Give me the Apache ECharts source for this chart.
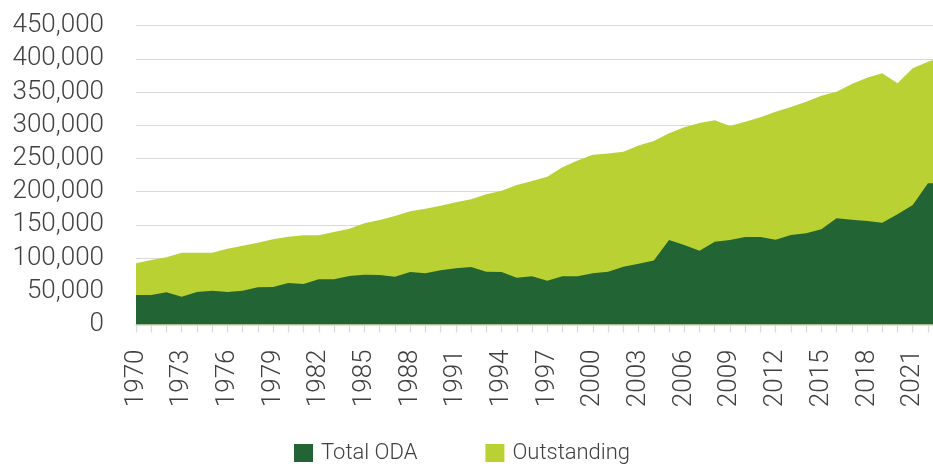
<!DOCTYPE html>
<html>
<head>
<meta charset="utf-8">
<script src="https://cdn.jsdelivr.net/npm/echarts@6/dist/echarts.min.js"></script>
<style>
html,body{margin:0;padding:0;background:#fff;}
#chart{width:933px;height:464px;}
</style>
</head>
<body>
<div id="chart"></div>
<script>
const years = ['1970','1971','1972','1973','1974','1975','1976','1977','1978','1979',
  '1980','1981','1982','1983','1984','1985','1986','1987','1988','1989',
  '1990','1991','1992','1993','1994','1995','1996','1997','1998','1999',
  '2000','2001','2002','2003','2004','2005','2006','2007','2008','2009',
  '2010','2011','2012','2013','2014','2015','2016','2017','2018','2019',
  '2020','2021','2022','2023'];

const totalODA = [44400,44400,48500,41900,48900,50900,48900,50900,56000,56500,
  62500,61000,68100,68100,73000,75000,74500,72000,79100,77100,
  81600,84600,86600,79500,79100,70500,72500,66000,72600,72600,
  77000,79300,87000,91600,96400,127300,119700,111100,124700,127300,
  131800,131800,127700,134800,137300,143400,159900,157800,155900,153300,
  166000,180000,212600,212600];

const outstanding = [92200,97100,101200,108100,108100,108100,114200,118700,123200,128300,
  132200,134300,134300,139300,144300,152400,157400,163400,170500,174400,
  178900,184000,188500,196100,201500,210100,216000,222600,236700,247000,
  255500,257500,260000,269500,276500,287900,297000,303500,307500,298900,
  305400,312000,320500,327600,335500,344600,350600,362200,371700,378300,
  363200,385800,395800,403900];

const yTicks = {min: 0, max: 450000, interval: 50000};

const FONT = 'Roboto';
const TXT = '#404040';

const chart = echarts.init(document.getElementById('chart'), null, {renderer: 'canvas'});
chart.setOption({
  animation: false,
  backgroundColor: '#ffffff',
  grid: {left: 136, right: -10.2, top: 25.7, bottom: 139.5, containLabel: false, outerBoundsMode: 'none'},
  legend: {
    data: ['Total ODA', 'Outstanding'],
    left: 294, top: 442, padding: 0,
    itemWidth: 19, itemHeight: 18, itemGap: 68,
    icon: 'rect',
    textStyle: {fontFamily: FONT, fontWeight: 300, fontSize: 22, color: TXT, padding: [0, 0, 0, 3]}
  },
  xAxis: {
    type: 'category',
    data: years,
    boundaryGap: false,
    axisLine: {show: true, lineStyle: {color: '#d9d9d9', width: 1.5}},
    axisTick: {show: true, interval: 0, length: 8, lineStyle: {color: '#d9d9d9', width: 1.2}},
    axisLabel: {interval: 2, rotate: 90, margin: 25, fontFamily: FONT, fontWeight: 300, fontSize: 26, color: TXT},
    splitLine: {show: false}
  },
  yAxis: {
    type: 'value',
    min: yTicks.min, max: yTicks.max, interval: yTicks.interval,
    axisLine: {show: false},
    axisTick: {show: false},
    axisLabel: {margin: 32, fontFamily: FONT, fontWeight: 300, fontSize: 26, color: TXT,
      formatter: v => v.toLocaleString('en-US')},
    splitLine: {show: true, lineStyle: {color: '#d9d9d9', width: 1.2}}
  },
  series: [
    {
      name: 'Outstanding', type: 'line', data: outstanding,
      showSymbol: false, symbol: 'none',
      lineStyle: {width: 0}, itemStyle: {color: '#b9d133'},
      areaStyle: {color: '#b9d133', opacity: 1}, z: 2
    },
    {
      name: 'Total ODA', type: 'line', data: totalODA,
      showSymbol: false, symbol: 'none',
      lineStyle: {width: 0}, itemStyle: {color: '#226434'},
      areaStyle: {color: '#226434', opacity: 1}, z: 3
    }
  ]
});
</script>
</body>
</html>
